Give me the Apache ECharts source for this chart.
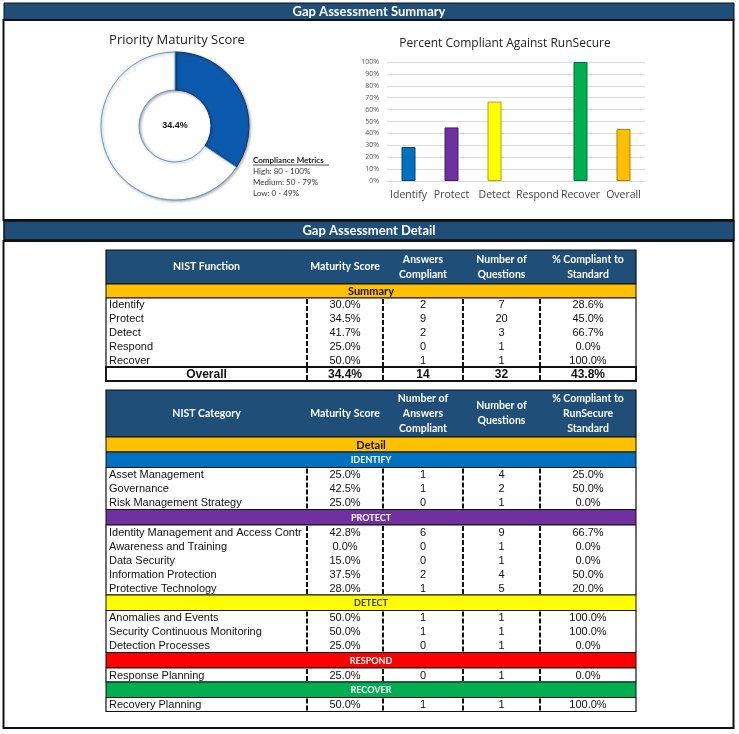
<!DOCTYPE html>
<html>
<head>
<meta charset="utf-8">
<script src="https://cdn.jsdelivr.net/npm/echarts@6/dist/echarts.min.js"></script>
<style>
html,body{margin:0;padding:0;background:#fff;}
#chart{width:739px;height:734px;}
</style>
</head>
<body>
<div id="chart"></div>
<script>
// ---------------- DATA ----------------
const summaryFunctions = ['Identify', 'Protect', 'Detect', 'Respond', 'Recover'];
const summaryMaturity = [30.0, 34.5, 41.7, 25.0, 50.0];
const summaryAnswers = [2, 9, 2, 0, 1];
const summaryQuestions = [7, 20, 3, 1, 1];
const summaryCompliant = [28.6, 45.0, 66.7, 0.0, 100.0];
const overallLabel = 'Overall';
const overallMaturity = 34.4;
const overallAnswers = 14;
const overallQuestions = 32;
const overallCompliant = 43.8;

const barCategories = ['Identify', 'Protect', 'Detect', 'Respond', 'Recover', 'Overall'];
const barValues = [28.6, 45.0, 66.7, 0.0, 100.0, 43.8];
const yTickLabels = ['0%', '10%', '20%', '30%', '40%', '50%', '60%', '70%', '80%', '90%', '100%'];

const complianceMetrics = ['High: 80 - 100%', 'Medium: 50 - 79%', 'Low: 0 - 49%'];

const summaryHeaders = ['NIST Function', 'Maturity Score', 'Answers\nCompliant', 'Number of\nQuestions', '% Compliant to\nStandard'];
const detailHeaders = ['NIST Category', 'Maturity Score', 'Number of\nAnswers\nCompliant', 'Number of\nQuestions', '% Compliant to\nRunSecure\nStandard'];

const detailSections = ['IDENTIFY', 'PROTECT', 'DETECT', 'RESPOND', 'RECOVER'];
const identifyNames = ['Asset Management', 'Governance', 'Risk Management Strategy'];
const identifyMaturity = [25.0, 42.5, 25.0];
const identifyAnswers = [1, 1, 0];
const identifyQuestions = [4, 2, 1];
const identifyCompliant = [25.0, 50.0, 0.0];
const protectNames = ['Identity Management and Access Control', 'Awareness and Training', 'Data Security', 'Information Protection', 'Protective Technology'];
const protectMaturity = [42.8, 0.0, 15.0, 37.5, 28.0];
const protectAnswers = [6, 0, 0, 2, 1];
const protectQuestions = [9, 1, 1, 4, 5];
const protectCompliant = [66.7, 0.0, 0.0, 50.0, 20.0];
const detectNames = ['Anomalies and Events', 'Security Continuous Monitoring', 'Detection Processes'];
const detectMaturity = [50.0, 50.0, 25.0];
const detectAnswers = [1, 1, 0];
const detectQuestions = [1, 1, 1];
const detectCompliant = [100.0, 100.0, 0.0];
const respondNames = ['Response Planning'];
const respondMaturity = [25.0];
const respondAnswers = [0];
const respondQuestions = [1];
const respondCompliant = [0.0];
const recoverNames = ['Recovery Planning'];
const recoverMaturity = [50.0];
const recoverAnswers = [1];
const recoverQuestions = [1];
const recoverCompliant = [100.0];

// ---------------- STYLE ----------------
const NAVY = '#1F4E79';
const barColors = ['#0070C0', '#7030A0', '#FFFF00', '#FF0000', '#00B050', '#FFC000'];
const barBorders = ['#0B3F70', '#46186A', '#A8A800', '#A00000', '#00703A', '#A87E00'];
const sectionFill = ['#0070C0', '#7030A0', '#FFFF00', '#FF0000', '#00B050'];
const sectionText = ['#ffffff', '#ffffff', '#3a3a3a', '#ffffff', '#ffffff'];
const colX = [106, 307, 383, 463, 540, 636];
const HEAD_FONT = 'bold 10.5px Lato, "Open Sans", sans-serif';
const BODY_FONT = '11px "Liberation Sans", Arial, sans-serif';
const pct = v => v.toFixed(1) + '%';

const g = [];
function rect(x, y, w, h, fill, stroke, lw, z) {
  g.push({type: 'rect', silent: true, z: z || 1, shape: {x, y, width: w, height: h},
    style: {fill: fill || 'none', stroke: stroke || null, lineWidth: lw || 0}});
}
function line(x1, y1, x2, y2, stroke, lw, dash, z) {
  g.push({type: 'line', silent: true, z: z || 3, shape: {x1, y1, x2, y2},
    style: {stroke, lineWidth: lw, lineDash: dash || null}});
}
function text(x, y, t, font, fill, align, extra) {
  const st = Object.assign({text: t, font, fill, align: align || 'center', verticalAlign: 'middle'}, extra || {});
  g.push({type: 'text', silent: true, z: 4, x, y, style: st});
}

// Panels and banners
rect(4, 3, 730, 17, NAVY, '#111', 1, 1);
text(369, 11.5, 'Gap Assessment Summary', 'bold 13px Lato, "Open Sans", sans-serif', '#fff');
rect(3.5, 20, 730, 200, 'none', '#111', 2, 1);
rect(4, 221, 730, 19, NAVY, '#111', 1.5, 1);
text(369, 231, 'Gap Assessment Detail', 'bold 13px Lato, "Open Sans", sans-serif', '#fff');
rect(3.5, 241, 730, 487, 'none', '#111', 2, 1);

// Chart titles and donut annotations
text(177, 40, 'Priority Maturity Score', '13px "Open Sans", Lato, sans-serif', '#222');
text(505, 44, 'Percent Compliant Against RunSecure', '12px "Open Sans", Lato, sans-serif', '#222');
text(175, 126, pct(overallMaturity), 'bold 9px "Liberation Sans", Arial, sans-serif', '#111');
text(253, 160, 'Compliance Metrics', 'bold 8px Lato, "Open Sans", sans-serif', '#222', 'left');
line(253, 165, 329, 165, '#222', 0.8);
complianceMetrics.forEach((m, i) => text(253, 171 + i * 11, m, '8px Lato, "Open Sans", sans-serif', '#333', 'left'));

// Generic table helpers
function headerRow(y, h, labels) {
  rect(colX[0], y, colX[5] - colX[0], h, NAVY, '#111', 1.2, 1);
  labels.forEach((l, i) => {
    text((colX[i] + colX[i + 1]) / 2, y + h / 2, l, HEAD_FONT, '#fff', 'center', {lineHeight: 15});
  });
}
function band(y, h, label, fill, color, font) {
  rect(colX[0], y, colX[5] - colX[0], h, fill, '#111', 1, 1);
  text(371, y + h / 2 + 0.5, label, font || 'bold 9px Lato, "Open Sans", sans-serif', color);
}
function bodyRows(y, rh, names, mat, ans, q, comp, bold) {
  const n = names.length;
  const h = rh * n;
  rect(colX[0], y, colX[5] - colX[0], h, '#fff', '#111', 1.2, 1);
  for (let c = 1; c < 5; c++) line(colX[c], y + 1, colX[c], y + h - 1, '#111', 2, [5, 2]);
  names.forEach((nm, i) => {
    const cy = y + rh * i + rh / 2 + 0.5;
    const font = bold ? 'bold 12px "Liberation Sans", Arial, sans-serif' : BODY_FONT;
    if (bold) text((colX[0] + colX[1]) / 2, cy, nm, font, '#111');
    else text(colX[0] + 3, cy, nm, font, '#111', 'left', {width: colX[1] - colX[0] - 5, overflow: 'truncate', ellipsis: ''});
    text((colX[1] + colX[2]) / 2, cy, pct(mat[i]), font, '#111');
    text((colX[2] + colX[3]) / 2, cy, String(ans[i]), font, '#111');
    text((colX[3] + colX[4]) / 2, cy, String(q[i]), font, '#111');
    text((colX[4] + colX[5]) / 2, cy, pct(comp[i]), font, '#111');
  });
  return y + h;
}

// Table 1: summary
headerRow(250, 34, summaryHeaders);
band(284, 14, 'Summary', '#FFC000', '#111', 'bold 11px Lato, "Open Sans", sans-serif');
let yy = bodyRows(298, 13.8, summaryFunctions, summaryMaturity, summaryAnswers, summaryQuestions, summaryCompliant, false);
bodyRows(yy, 14, [overallLabel], [overallMaturity], [overallAnswers], [overallQuestions], [overallCompliant], true);
rect(colX[0], yy, colX[5] - colX[0], 14, 'none', '#111', 1.8, 5);

// Table 2: detail
headerRow(390, 47, detailHeaders);
band(437, 15, 'Detail', '#FFC000', '#111', 'bold 11px Lato, "Open Sans", sans-serif');
const detailData = [
  [identifyNames, identifyMaturity, identifyAnswers, identifyQuestions, identifyCompliant],
  [protectNames, protectMaturity, protectAnswers, protectQuestions, protectCompliant],
  [detectNames, detectMaturity, detectAnswers, detectQuestions, detectCompliant],
  [respondNames, respondMaturity, respondAnswers, respondQuestions, respondCompliant],
  [recoverNames, recoverMaturity, recoverAnswers, recoverQuestions, recoverCompliant]
];
let y2 = 452;
detailSections.forEach((s, i) => {
  band(y2, 15.5, s, sectionFill[i], sectionText[i]);
  y2 += 15.5;
  const d = detailData[i];
  y2 = bodyRows(y2, 14, d[0], d[1], d[2], d[3], d[4], false);
});

const option = {
  backgroundColor: '#ffffff',
  animation: false,
  grid: {left: 387, top: 62, width: 258, height: 119},
  xAxis: {
    type: 'category', data: barCategories,
    axisLine: {lineStyle: {color: '#D9D9D9'}}, axisTick: {show: false},
    axisLabel: {color: '#444', fontSize: 10.5, fontFamily: '"Open Sans", Lato, sans-serif', margin: 9, interval: 0}
  },
  yAxis: {
    type: 'value', min: 0, max: 100, interval: 10,
    axisLabel: {color: '#555', fontSize: 7, fontFamily: '"Open Sans", sans-serif', margin: 8,
      formatter: v => yTickLabels[Math.round(v / 10)]},
    splitLine: {lineStyle: {color: '#DCDCDC'}},
    axisLine: {show: false}, axisTick: {show: false}
  },
  series: [
    {
      type: 'bar', barWidth: 14, silent: true,
      data: barValues.map((v, i) => ({value: v, itemStyle: {color: barColors[i], borderColor: barBorders[i], borderWidth: v > 0 ? 1 : 0, opacity: v > 0 ? 1 : 0}}))
    },
    {
      type: 'pie', center: [175, 126], radius: [36, 74], startAngle: 90, clockwise: true,
      silent: true, label: {show: false}, labelLine: {show: false},
      itemStyle: {shadowBlur: 3, shadowColor: 'rgba(0,0,0,0.35)', shadowOffsetX: 1, shadowOffsetY: 1},
      data: [
        {value: overallMaturity, itemStyle: {color: '#0C5AAE', borderColor: '#1B2F52', borderWidth: 1}},
        {value: 100 - overallMaturity, itemStyle: {color: '#ffffff', borderColor: '#5B9BD5', borderWidth: 1}}
      ]
    }
  ],
  graphic: {elements: g}
};
const chart = echarts.init(document.getElementById('chart'));
chart.setOption(option);
</script>
</body>
</html>
